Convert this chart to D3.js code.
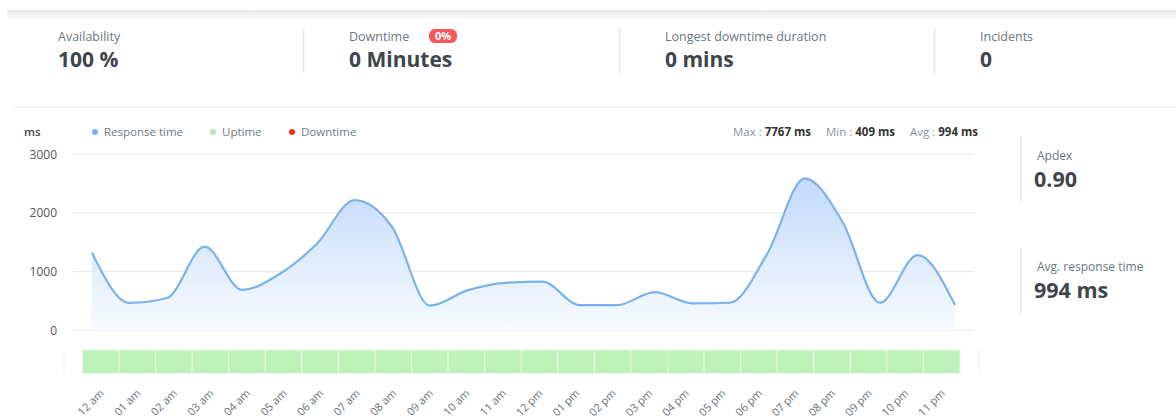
<!DOCTYPE html>
<html>
<head>
<meta charset="utf-8">
<script src="https://cdn.jsdelivr.net/npm/d3@7"></script>
<style>
  html, body { margin: 0; padding: 0; background: #fff; }
  svg { display: block; font-family: "Open Sans", "Noto Sans", sans-serif; }
</style>
</head>
<body>
<svg id="chart" width="1176" height="418"></svg>
<script>
// ---------- data ----------
const hours = ["12 am","01 am","02 am","03 am","04 am","05 am","06 am","07 am","08 am","09 am","10 am","11 am",
               "12 pm","01 pm","02 pm","03 pm","04 pm","05 pm","06 pm","07 pm","08 pm","09 pm","10 pm","11 pm"];
const responseTime = [1320, 467, 550, 1425, 690, 960, 1480, 2220, 1760, 420, 680, 810,
                      830, 430, 430, 650, 460, 470, 1310, 2590, 1850, 470, 1280, 430];
const uptimeStatus = ["up","up","up","up","up","up","up","up","up","up","up","up",
                      "up","up","up","up","up","up","up","up","up","up","up","up"];
const yTicks = [0, 1000, 2000, 3000];
const topStatLabels = ["Availability", "Downtime", "Longest downtime duration", "Incidents"];
const topStatValues = ["100 %", "0 Minutes", "0 mins", "0"];
const sideStatLabels = ["Apdex", "Avg. response time"];
const sideStatValues = ["0.90", "994 ms"];
const legendNames = ["Response time", "Uptime", "Downtime"];
const legendColors = ["#7ab3f5", "#b5efb3", "#f52a2a"];
const summaryNames = ["Max", "Min", "Avg"];
const summaryValues = ["7767 ms", "409 ms", "994 ms"];
const downtimeBadge = "0%";

// ---------- drawing ----------
const svg = d3.select("#chart");
const defs = svg.append("defs");

// top shadow
const sh = defs.append("linearGradient").attr("id", "shadow").attr("x1", 0).attr("y1", 0).attr("x2", 0).attr("y2", 1);
sh.append("stop").attr("offset", 0).attr("stop-color", "#e9e9e9");
sh.append("stop").attr("offset", 1).attr("stop-color", "#ffffff");
svg.append("rect").attr("x", 7).attr("y", 10).attr("width", 1169).attr("height", 10).attr("fill", "url(#shadow)");

// separator line under stats
svg.append("line").attr("x1", 11).attr("x2", 1176).attr("y1", 107).attr("y2", 107)
  .attr("stroke", "#ececec").attr("stroke-width", 1);

const labelColor = "#6c7783";
const valueColor = "#3f454b";

// top stats
const statX = d3.scaleOrdinal().domain(topStatLabels).range([58, 349, 665, 980]);
const topG = svg.append("g").selectAll("g").data(topStatLabels).join("g")
  .attr("transform", d => `translate(${statX(d)},0)`);
topG.append("text").attr("y", 41).attr("font-size", 12.5).attr("fill", labelColor).text(d => d);
topG.append("text").attr("y", 67).attr("font-size", 21).attr("font-weight", 700).attr("fill", valueColor)
  .text((d, i) => topStatValues[i]);
// dividers
svg.append("g").selectAll("line").data(topStatLabels.slice(1)).join("line")
  .attr("x1", d => statX(d) - 45.5).attr("x2", d => statX(d) - 45.5)
  .attr("y1", 28).attr("y2", 73).attr("stroke", "#e8ebee").attr("stroke-width", 2);
// badge
const badgeG = svg.append("g").attr("transform", `translate(${statX("Downtime") + 80},29)`);
badgeG.append("rect").attr("width", 28).attr("height", 14).attr("rx", 6).attr("fill", "#f7575c");
badgeG.append("text").attr("x", 14).attr("y", 11).attr("text-anchor", "middle").attr("font-size", 11)
  .attr("font-weight", 700).attr("fill", "#fff").text(downtimeBadge);

// side stats
const sideY = d3.scalePoint(sideStatLabels, [137, 248]);
const sideG = svg.append("g").selectAll("g").data(sideStatLabels).join("g")
  .attr("transform", d => `translate(1021,${sideY(d)})`);
sideG.append("line").attr("x1", 0).attr("x2", 0).attr("y1", 0).attr("y2", 65).attr("stroke", "#e8ebee").attr("stroke-width", 2);
sideG.append("text").attr("x", 16).attr("y", 23).attr("font-size", 12).attr("fill", labelColor).text(d => d);
sideG.append("text").attr("x", 13).attr("y", 50).attr("font-size", 21.5).attr("font-weight", 700).attr("fill", valueColor)
  .text((d, i) => sideStatValues[i]);

// ---------- chart ----------
const y = d3.scaleLinear().domain([0, 3000]).range([330.3, 154.3]);
const x = d3.scalePoint().domain(hours).range([92, 955]);
const xb = d3.scaleBand().domain(hours).range([82.5, 960]).padding(0);

// grid
svg.append("g").selectAll("line").data(yTicks).join("line")
  .attr("x1", 73).attr("x2", 974).attr("y1", d => y(d)).attr("y2", d => y(d))
  .attr("stroke", "#e6e6e6").attr("stroke-width", 1);
// y axis labels
const yAxis = d3.axisLeft(y).tickValues(yTicks).tickSize(0).tickPadding(0).tickFormat(d3.format("d"));
const yg = svg.append("g").attr("transform", "translate(57,0)").call(yAxis);
yg.select(".domain").remove();
yg.selectAll("text").attr("font-family", "Open Sans, sans-serif").attr("font-size", 12).attr("fill", "#555");

svg.append("text").attr("x", 24).attr("y", 136).attr("font-size", 11.5).attr("font-weight", 600).attr("fill", "#444").text("ms");

// legend
const legX = d3.scaleOrdinal().domain(legendNames).range([95, 213, 292]);
const lg = svg.append("g").selectAll("g").data(legendNames).join("g")
  .attr("transform", d => `translate(${legX(d)},132)`);
lg.append("circle").attr("r", 3).attr("fill", (d, i) => legendColors[i]);
lg.append("text").attr("x", 9).attr("y", 4).attr("font-size", 11.5).attr("fill", "#707a85").text(d => d);

// summary (right aligned)
const sumText = svg.append("text").attr("x", 978).attr("y", 136).attr("text-anchor", "end").attr("font-size", 11.5);
summaryNames.forEach((n, i) => {
  sumText.append("tspan").attr("fill", "#8a929a").attr("dx", i === 0 ? 0 : 15).text(n + " : ");
  sumText.append("tspan").attr("fill", "#333").attr("font-weight", 700).text(summaryValues[i]);
});

// area gradient
const ag = defs.append("linearGradient").attr("id", "areaGrad").attr("gradientUnits", "userSpaceOnUse")
  .attr("x1", 0).attr("x2", 0).attr("y1", y(d3.max(responseTime))).attr("y2", y(0));
ag.append("stop").attr("offset", 0).attr("stop-color", "#c2dafa");
ag.append("stop").attr("offset", 1).attr("stop-color", "#f8fbff");

const area = d3.area().x((d, i) => x(hours[i])).y0(y(0)).y1(d => y(d)).curve(d3.curveMonotoneX);
const line = d3.line().x((d, i) => x(hours[i])).y(d => y(d)).curve(d3.curveMonotoneX);
svg.append("path").datum(responseTime).attr("d", area).attr("fill", "url(#areaGrad)");
svg.append("path").datum(responseTime).attr("d", line).attr("fill", "none")
  .attr("stroke", "#7ab3ec").attr("stroke-width", 2.2);

// uptime bar
svg.append("line").attr("x1", 64).attr("x2", 64).attr("y1", 350).attr("y2", 373).attr("stroke", "#eeeeee");
svg.append("line").attr("x1", 979).attr("x2", 979).attr("y1", 350).attr("y2", 373).attr("stroke", "#eeeeee");
svg.append("g").selectAll("rect").data(hours).join("rect")
  .attr("x", d => xb(d)).attr("y", 350).attr("width", xb.bandwidth()).attr("height", 23.3)
  .attr("fill", (d, i) => uptimeStatus[i] === "up" ? "#bdf2bb" : "#f52a2a")
  .attr("stroke", "#e6f7e4").attr("stroke-width", 1);

// x labels
svg.append("g").selectAll("text").data(hours).join("text")
  .attr("transform", d => `translate(${xb(d) + xb.bandwidth() / 2 + 4},394) rotate(-45)`)
  .attr("text-anchor", "end").attr("font-size", 11).attr("fill", "#6a6f75").text(d => d);
</script>
</body>
</html>
